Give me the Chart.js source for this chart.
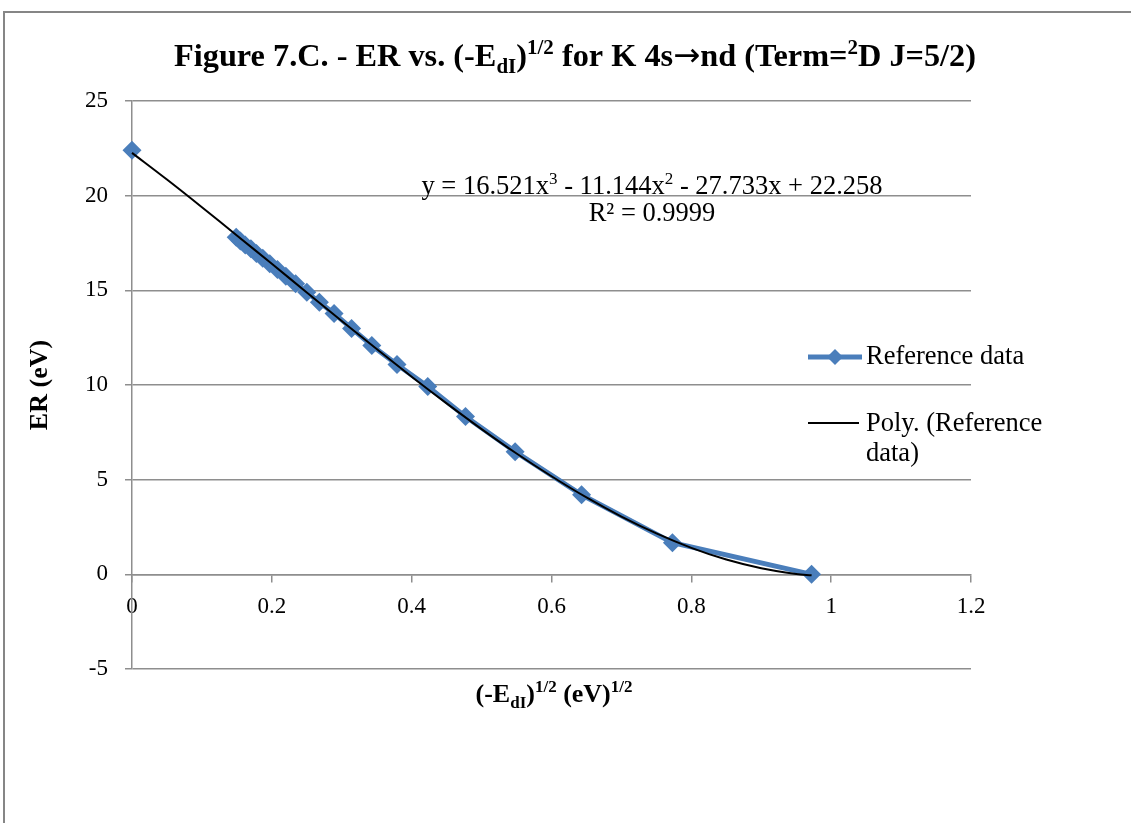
<!DOCTYPE html>
<html>
<head>
<meta charset="utf-8">
<script src="https://cdn.jsdelivr.net/npm/chart.js@4/dist/chart.umd.min.js"></script>
<style>
html,body{margin:0;padding:0;background:#fff;}
canvas{display:block;}
</style>
</head>
<body>
<canvas id="c" width="1131" height="823"></canvas>
<script>
// ---- Data ----
// Reference data: x = (-E_dI)^(1/2) (eV)^(1/2), y = ER (eV); null marks a break in the line
const refX = [0.972, 0.773, 0.643, 0.548, 0.477, 0.423, 0.379, 0.343, 0.314, 0.289, 0.268, 0.250, 0.234, 0.220, 0.208, 0.197, 0.187, 0.178, 0.170, 0.162, 0.155, 0.149, null, 0.0];
const refY = [0.0, 1.67, 4.2, 6.48, 8.33, 9.92, 11.08, 12.09, 12.99, 13.78, 14.37, 14.9, 15.35, 15.75, 16.1, 16.4, 16.7, 16.95, 17.2, 17.4, 17.6, 17.8, null, 22.4];
// Polynomial trend line (black)
const polyX = [0, 0.05, 0.1, 0.15, 0.2, 0.25, 0.3, 0.35, 0.4, 0.45, 0.5, 0.55, 0.6, 0.65, 0.7, 0.75, 0.8, 0.85, 0.9, 0.95, 0.972];
const polyY = [22.26, 20.85, 19.39, 17.90, 16.40, 14.89, 13.38, 11.90, 10.44, 9.03, 7.67, 6.38, 5.18, 4.06, 3.05, 2.16, 1.40, 0.78, 0.32, 0.02, -0.05];
// Tick labels
const xTickLabels = ['0', '0.2', '0.4', '0.6', '0.8', '1', '1.2'];
const yTickLabels = ['-5', '0', '5', '10', '15', '20', '25'];
const seriesNames = ['Reference data', 'Poly. (Reference', 'data)'];
const equationText = ['y = 16.521x', '3', ' - 11.144x', '2', ' - 27.733x + 22.258'];
const r2Text = 'R² = 0.9999';

const BLUE = '#4A7EBB';
const GRID = '#8E8E8E';
const SERIF = '"Liberation Serif", "Times New Roman", serif';

function richText(ctx, segs, cx, y, size, bold) {
  let total = 0;
  const parts = segs.map(s => {
    const sz = s.k === 'n' ? size : Math.round(size * 0.66);
    const fam = s.f || SERIF;
    const w = (bold && !s.light) ? 'bold ' : '';
    const font = w + sz + 'px ' + fam;
    ctx.font = font;
    const m = ctx.measureText(s.t).width;
    total += m;
    return {t: s.t, k: s.k, m, font};
  });
  let x = cx - total / 2;
  ctx.textAlign = 'left';
  ctx.textBaseline = 'alphabetic';
  parts.forEach(p => {
    ctx.font = p.font;
    let dy = 0;
    if (p.k === 'sup') dy = -size * 0.38;
    if (p.k === 'sub') dy = size * 0.22;
    ctx.fillText(p.t, x, y + dy);
    x += p.m;
  });
}

const decor = {
  id: 'decor',
  afterDraw(chart) {
    const ctx = chart.ctx;
    ctx.save();
    // chart border
    ctx.strokeStyle = '#868686';
    ctx.lineWidth = 2;
    ctx.strokeRect(4, 12, 1200, 900);
    ctx.fillStyle = '#000';
    // title
    richText(ctx, [
      {t: 'Figure 7.C. - ER vs. (-E', k: 'n'}, {t: 'dI', k: 'sub'}, {t: ')', k: 'n'}, {t: '1/2', k: 'sup'},
      {t: ' for K 4s', k: 'n'}, {t: '\u2192', k: 'n', f: '"DejaVu Sans"', light: true}, {t: 'nd (Term=', k: 'n'}, {t: '2', k: 'sup'}, {t: 'D J=5/2)', k: 'n'}
    ], 575, 66, 32.3, true);
    // x axis title
    richText(ctx, [
      {t: '(-E', k: 'n'}, {t: 'dI', k: 'sub'}, {t: ')', k: 'n'}, {t: '1/2', k: 'sup'},
      {t: ' (eV)', k: 'n'}, {t: '1/2', k: 'sup'}
    ], 554, 702, 26, true);
    // y axis title
    ctx.save();
    ctx.translate(40, 385);
    ctx.rotate(-Math.PI / 2);
    ctx.font = 'bold 26px ' + SERIF;
    ctx.textAlign = 'center';
    ctx.textBaseline = 'middle';
    ctx.fillText('ER (eV)', 0, 0);
    ctx.restore();
    // equation
    richText(ctx, [
      {t: equationText[0], k: 'n'}, {t: equationText[1], k: 'sup'}, {t: equationText[2], k: 'n'},
      {t: equationText[3], k: 'sup'}, {t: equationText[4], k: 'n'}
    ], 652, 194, 26.5, false);
    ctx.font = '26.5px ' + SERIF;
    ctx.textAlign = 'center';
    ctx.fillText(r2Text, 652, 221);
    // legend
    ctx.strokeStyle = BLUE;
    ctx.lineWidth = 5;
    ctx.beginPath(); ctx.moveTo(808, 357); ctx.lineTo(862, 357); ctx.stroke();
    ctx.fillStyle = BLUE;
    ctx.beginPath();
    ctx.moveTo(835, 349); ctx.lineTo(843, 357); ctx.lineTo(835, 365); ctx.lineTo(827, 357); ctx.closePath(); ctx.fill();
    ctx.strokeStyle = '#000';
    ctx.lineWidth = 2;
    ctx.beginPath(); ctx.moveTo(808, 423); ctx.lineTo(859, 423); ctx.stroke();
    ctx.fillStyle = '#000';
    ctx.font = '26.5px ' + SERIF;
    ctx.textAlign = 'left';
    ctx.textBaseline = 'middle';
    ctx.fillText(seriesNames[0], 866, 357);
    ctx.fillText(seriesNames[1], 866, 424);
    ctx.fillText(seriesNames[2], 866, 454);
    ctx.restore();
  }
};

const refData = refX.map((x, i) => ({x: x, y: refY[i]}));
const polyData = polyX.map((x, i) => ({x: x, y: polyY[i]}));

new Chart(document.getElementById('c'), {
  type: 'scatter',
  data: {
    datasets: [
      {
        label: seriesNames[0],
        data: refData,
        showLine: true,
        spanGaps: false,
        clip: false,
        borderColor: BLUE,
        backgroundColor: BLUE,
        borderWidth: 5,
        pointStyle: 'rectRot',
        pointRadius: 9.5,
        pointBorderWidth: 0,
        pointBackgroundColor: BLUE,
        order: 2
      },
      {
        label: seriesNames[1] + ' ' + seriesNames[2],
        data: polyData,
        showLine: true,
        clip: false,
        borderColor: '#000',
        borderWidth: 2,
        pointRadius: 0,
        tension: 0.35,
        order: 1
      }
    ]
  },
  options: {
    responsive: false,
    animation: false,
    devicePixelRatio: 1,
    layout: {padding: {left: 0, top: 101, right: 160, bottom: 154}},
    plugins: {legend: {display: false}, title: {display: false}, tooltip: {enabled: false}},
    scales: {
      x: {
        type: 'linear',
        position: {y: 0},
        min: 0, max: 1.2,
        afterFit(s) { s.height = 1; },
        afterBuildTicks(s) { s.ticks = xTickLabels.map(v => ({value: parseFloat(v)})); },
        ticks: {
          callback: (v, i) => xTickLabels[i],
          font: {family: SERIF, size: 23},
          color: '#000',
          padding: 12,
          maxRotation: 0,
          autoSkip: false
        },
        grid: {drawOnChartArea: false, drawTicks: true, tickLength: 7, color: GRID, lineWidth: 1.5},
        border: {display: true, color: GRID, width: 1.5}
      },
      y: {
        type: 'linear',
        min: -5, max: 25,
        afterFit(s) { s.width = 132; },
        afterBuildTicks(s) { s.ticks = yTickLabels.map(v => ({value: parseFloat(v)})); },
        ticks: {
          callback: (v, i) => yTickLabels[i],
          font: {family: SERIF, size: 23},
          color: '#000',
          padding: 17,
          autoSkip: false
        },
        grid: {drawOnChartArea: true, drawTicks: true, tickLength: 7, color: GRID, lineWidth: 1.5},
        border: {display: true, color: GRID, width: 1.5}
      }
    }
  },
  plugins: [decor]
});
</script>
</body>
</html>
